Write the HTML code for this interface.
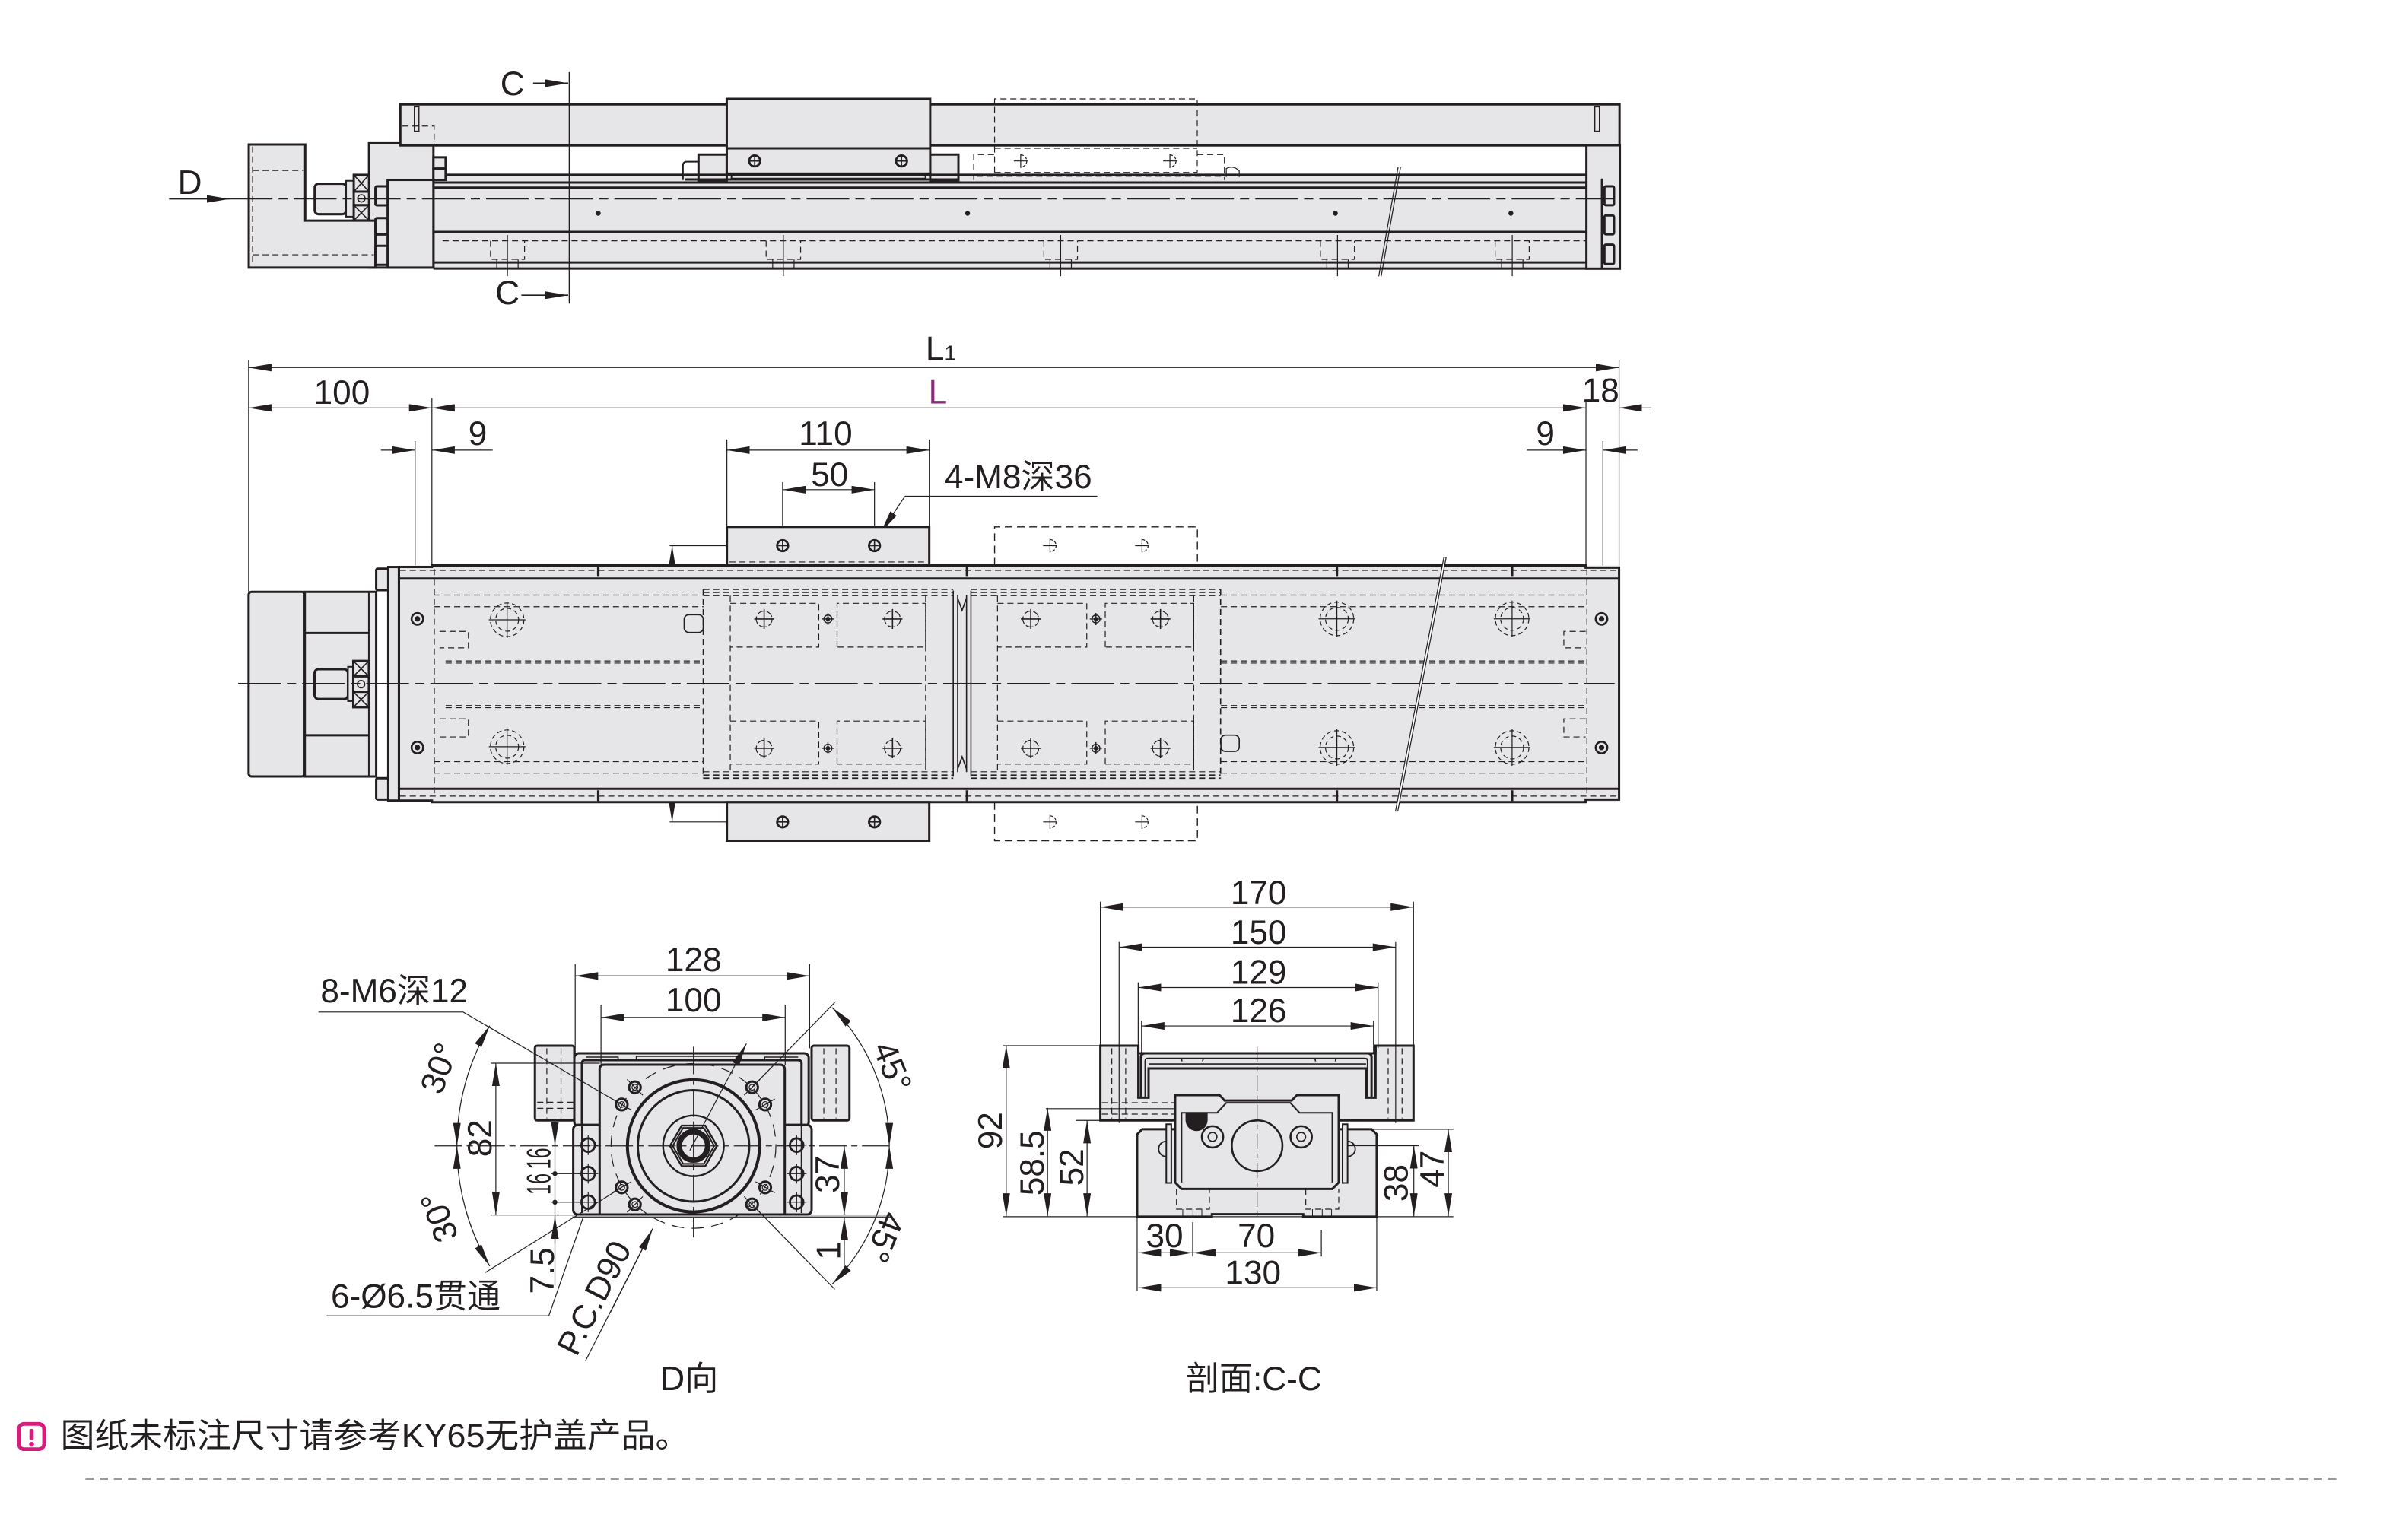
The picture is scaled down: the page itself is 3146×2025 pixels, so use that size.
<!DOCTYPE html>
<html><head><meta charset="utf-8">
<style>
html,body{margin:0;padding:0;background:#fff}
svg{display:block}
text{font-family:"Liberation Sans","Noto Sans CJK SC",sans-serif;font-size:22px;fill:#231f20}
</style></head><body>
<svg xmlns="http://www.w3.org/2000/svg" xmlns:xlink="http://www.w3.org/1999/xlink" width="3146" height="2025" viewBox="0 0 1568 1009.3" preserveAspectRatio="none">
<defs>
<marker id="a" viewBox="0 0 15 5" refX="15" refY="2.5" markerWidth="15" markerHeight="5" orient="auto-start-reverse" markerUnits="userSpaceOnUse"><path d="M0,0L15,2.5L0,5z" fill="#231f20"/></marker>
<g id="cb" fill="none" stroke="#231f20" stroke-width="0.6"><circle r="11" stroke-dasharray="3 2"/><circle r="7.5" stroke-dasharray="3 2"/><path d="M-12,0H12M0,-12V12"/></g>
<g id="ch" fill="none" stroke="#231f20" stroke-width="0.6"><circle r="5.2" stroke-dasharray="5 1.5"/><path d="M-6.5,0H6.5M0,-6.5V6.5" stroke-width="0.8"/></g>
<g id="sh" fill="none" stroke="#231f20" stroke-width="0.7"><circle r="2.6"/><circle r="1.1" fill="#231f20"/><path d="M-4,0H4M0,-4V4"/></g>
<g id="bh" fill="none" stroke="#231f20"><circle r="3.8" stroke-width="1.3"/><circle r="1.8" fill="#231f20" stroke="none"/></g>
<g id="hv" fill="none" stroke="#231f20"><circle r="3.6" stroke-width="1.4"/><path d="M0,-3.6V3.6M-3.6,0H3.6" stroke-width="0.8"/></g>
<g id="gh" fill="none" stroke="#231f20" stroke-width="0.6"><path d="M0,-4A4,4 0 0 1 0,4" stroke-dasharray="2 1"/><path d="M-4.5,0H4.5M0,-4.5V4.5"/></g>
<g id="dh" fill="none" stroke="#231f20"><circle r="3.8" stroke-width="1.5"/><circle r="1.9" stroke-width="0.6"/></g>
<g id="sd" fill="none" stroke="#231f20"><circle r="4.4" stroke-width="1.4"/><path d="M-6.5,0H6.5M0,-6.5V6.5" stroke-width="0.6"/></g>
</defs>

<!-- ================= TOP (SIDE) VIEW ================= -->
<g fill="#e6e6e8" stroke="#231f20" stroke-width="1.5">
 <rect x="284" y="114.6" width="755.5" height="61.5" stroke="none"/>
 <rect x="241.8" y="93.9" width="42.2" height="81.5"/>
 <polygon points="163,94.7 200,94.7 200,144.6 246,144.6 246,175.4 163,175.4"/>
 <rect x="254" y="117.9" width="30" height="57.5"/>
 <rect x="246" y="122.1" width="8" height="12.5" rx="1"/>
 <rect x="246" y="142.9" width="8" height="10.8" rx="1"/>
 <rect x="246" y="161.1" width="8" height="12.5" rx="1"/>
 <rect x="284" y="103.1" width="8" height="7.4"/>
 <rect x="284" y="110.5" width="8" height="7.4"/>
 <rect x="206.2" y="120.4" width="20.6" height="20" rx="2.5"/>
 <rect x="226.8" y="118.5" width="5" height="23.5" stroke-width="1"/>
 <rect x="231.8" y="114.6" width="10" height="11"/>
 <rect x="231.8" y="125.6" width="10" height="8.9"/>
 <rect x="231.8" y="134.5" width="10" height="10"/>
 <rect x="262.3" y="68.4" width="798.9" height="26.9"/>
 <rect x="1039.5" y="95.2" width="21.9" height="80.9"/>
 <rect x="1051.3" y="122.1" width="6.3" height="12.4" rx="1"/>
 <rect x="1051.3" y="141.2" width="6.3" height="12.4" rx="1"/>
 <rect x="1051.3" y="160.3" width="6.3" height="12.8" rx="1"/>
 <rect x="457.7" y="101.3" width="18.5" height="17.4"/>
 <rect x="609.5" y="101.3" width="18.5" height="17.4"/>
 <rect x="476.2" y="64.8" width="133.3" height="49"/>
</g>
<g fill="none" stroke="#231f20" stroke-width="1.5">
 <path d="M292,114.6H1039.5M284,119.6H1039.5M284,123H1039.5M284,152H1039.5M284,172H1039.5M284,176H1039.5"/>
 <path d="M476.2,97.2H609.5M449,117.6H628"/>
 <path d="M1049.7,117V176"/>
 <path d="M231.8,114.6L241.8,125.6M241.8,114.6L231.8,125.6M231.8,134.5L241.8,144.5M241.8,134.5L231.8,144.5" stroke-width="0.8"/>
 <circle cx="236.8" cy="130" r="2.4" stroke-width="0.8"/>
 <rect x="479.3" y="113.8" width="127.1" height="3.2" stroke-width="1"/>
 <path d="M447.5,118V108.5Q447.5,106 450,106H457.7" stroke-width="1"/>
 <rect x="271.5" y="70" width="3" height="16" stroke-width="0.7"/>
 <rect x="1045" y="70" width="3" height="16" stroke-width="0.7"/>
</g>
<use href="#hv" x="494.5" y="105.5"/><use href="#hv" x="590.7" y="105.5"/>
<g fill="none" stroke="#231f20" stroke-width="0.6" stroke-dasharray="4 2.5">
 <path d="M165.5,96V174M165.5,111.7H199M165.5,167H245"/>
 <path d="M263.5,82.6H284.5V95"/>
 <path d="M290,157.8H1039"/>
 <path d="M321.4,157.8V170H343.7V157.8M502,157.8V170H524.6V157.8M684,157.8V170H706V157.8M865.2,157.8V170H887.5V157.8M979.7,157.8V170H1002V157.8"/>
 <path d="M651.7,113V64.8H784.5V113M651.7,97.2H784.5M651.7,113H784.5"/>
 <path d="M638,118V101.3H651.7M784.5,101.3H802.3V118M640,115.5H800"/>
</g>
<g fill="none" stroke="#231f20" stroke-width="0.6">
 <path d="M332.5,154V181M325.5,170V176M339.5,170V176M513.3,154V181M506.3,170V176M520.3,170V176M695,154V181M688,170V176M702,170V176M876.4,154V181M869.4,170V176M883.4,170V176M990.9,154V181M983.9,170V176M997.9,170V176"/>
 <path d="M150.5,130.4H1058" stroke-dasharray="28 4 6 4"/>
 <path d="M916.1,109.6L903.4,181.1M917.7,109.6L905,181.1"/>
 <path d="M803.5,116V110.5Q808,108 812,112V116"/>
 <line x1="373" y1="47.3" x2="373" y2="199" stroke-width="0.7"/>
 <line x1="349.3" y1="54.5" x2="372.3" y2="54.5" stroke-width="0.8" marker-end="url(#a)"/>
 <line x1="341.6" y1="193.5" x2="372.3" y2="193.5" stroke-width="0.8" marker-end="url(#a)"/>
 <line x1="110.8" y1="130.4" x2="150.5" y2="130.4" stroke-width="0.8" marker-end="url(#a)"/>
</g>
<use href="#gh" x="668.8" y="105.5"/><use href="#gh" x="766.6" y="105.5"/>
<g fill="#231f20"><circle cx="392" cy="139.8" r="1.6"/><circle cx="634" cy="139.8" r="1.6"/><circle cx="875" cy="139.8" r="1.6"/><circle cx="990" cy="139.8" r="1.6"/></g>
<text x="335.8" y="62.3" text-anchor="middle">C</text>
<text x="332.5" y="199.4" text-anchor="middle">C</text>
<text x="124.4" y="127" text-anchor="middle">D</text>

<!-- ================= PLAN VIEW ================= -->
<g fill="none" stroke="#231f20" stroke-width="0.6">
 <line x1="162.9" y1="240.9" x2="1060.6" y2="240.9" marker-start="url(#a)" marker-end="url(#a)"/>
 <line x1="162.9" y1="267.3" x2="283" y2="267.3" marker-start="url(#a)" marker-end="url(#a)"/>
 <line x1="283" y1="267.3" x2="1039.2" y2="267.3" marker-start="url(#a)" marker-end="url(#a)"/>
 <line x1="1082" y1="267.3" x2="1060.9" y2="267.3" marker-end="url(#a)"/>
 <line x1="249.6" y1="295" x2="272" y2="295" marker-end="url(#a)"/>
 <line x1="322.8" y1="295" x2="283" y2="295" marker-end="url(#a)"/>
 <line x1="1000.5" y1="295" x2="1039.2" y2="295" marker-end="url(#a)"/>
 <line x1="1073" y1="295" x2="1050.3" y2="295" marker-end="url(#a)"/>
 <line x1="476.3" y1="295" x2="608.9" y2="295" marker-start="url(#a)" marker-end="url(#a)"/>
 <line x1="512.8" y1="320.9" x2="573" y2="320.9" marker-start="url(#a)" marker-end="url(#a)"/>
 <path d="M162.9,236V387.9M1060.9,236V372M283,261V370.6M1039.2,262V370.6M272,289V405M1050.3,289V405M476.3,288V345.3M608.9,288V345.3M512.8,316V357.6M573,316V357.6"/>
 <path d="M719,325.2H593"/>
 <line x1="593" y1="325.2" x2="577.1" y2="349" marker-end="url(#a)"/>
 <path d="M438.8,357.6H505.6M438.8,538.7H505.6"/>
 <line x1="440.4" y1="357.6" x2="440.4" y2="538.7" marker-start="url(#a)" marker-end="url(#a)"/>
</g>
<text x="224" y="264.7" text-anchor="middle">100</text>
<text x="606.5" y="236">L<tspan font-size="14">1</tspan></text>
<text x="614.5" y="264.5" text-anchor="middle" style="fill:#8a2a7a">L</text>
<text x="1048.8" y="263.5" text-anchor="middle">18</text>
<text x="313" y="291.6" text-anchor="middle">9</text>
<text x="1012.6" y="291.6" text-anchor="middle">9</text>
<text x="541" y="291.7" text-anchor="middle">110</text>
<text x="543.6" y="318.5" text-anchor="middle">50</text>
<text x="619" y="320">4-M8深36</text>
<text transform="translate(424.5,414) rotate(-90)" y="7.8" text-anchor="middle">150</text>

<g fill="#e6e6e8" stroke="#231f20" stroke-width="1.5">
 <rect x="261.4" y="370.6" width="799.5" height="155.1" stroke="none"/>
 <rect x="254.4" y="371.6" width="7" height="153.1"/>
 <rect x="246.5" y="372.7" width="7.9" height="14.1" rx="1"/>
 <rect x="246.5" y="510" width="7.9" height="14" rx="1"/>
 <rect x="162.9" y="387.9" width="36.8" height="121" rx="2"/>
 <rect x="199.7" y="387.9" width="46.8" height="121"/>
 <rect x="206.1" y="438.6" width="21.9" height="19.5" rx="2.5"/>
 <rect x="228" y="437" width="3.5" height="22.5" stroke-width="1"/>
 <rect x="231.5" y="433.2" width="10.2" height="10.1"/>
 <rect x="231.5" y="443.3" width="10.2" height="10.1"/>
 <rect x="231.5" y="453.4" width="10.2" height="10.1"/>
 <rect x="476.3" y="345.3" width="132.6" height="25.3"/>
 <rect x="476.3" y="525.7" width="132.6" height="25.3"/>
</g>
<g fill="none" stroke="#231f20" stroke-width="1.5">
 <path d="M261.4,371.6H283V370.6H1039V372H1060.9V524H1039V525.7H283V524.7H261.4Z"/>
 <path d="M261.4,379.2H1060.9M261.4,517H1060.9"/>
 <path d="M199.7,414.9H241.7M199.7,481.9H241.7"/>
 <path d="M241.7,387.9V508.9" stroke-width="1"/>
 <path d="M231.5,433.2L241.7,443.3M241.7,433.2L231.5,443.3M231.5,453.4L241.7,463.5M241.7,453.4L231.5,463.5" stroke-width="0.8"/>
 <circle cx="236.6" cy="448.4" r="2.4" stroke-width="0.8"/>
 <path d="M392,371V378M633.6,371V378M876,371V378M990.8,371V378M392,518V525M633.6,518V525M876,518V525M990.8,518V525" stroke-width="1.6"/>
</g>
<g fill="none" stroke="#231f20" stroke-width="0.6" stroke-dasharray="4 2.5">
 <path d="M262,373.8H1060M262,521.8H1060"/>
 <path d="M284.6,373V522M1039.8,373V522"/>
 <path d="M284.6,390H461M284.6,397.6H461M292,433.2H461M292,434.6H461M292,462.4H461M292,463.8H461M284.6,499.2H461M284.6,506.7H461"/>
 <path d="M800,390H1039.8M800,397.6H1039.8M800,433.2H1039.8M800,434.6H1039.8M800,462.4H1039.8M800,463.8H1039.8M800,499.2H1039.8M800,506.7H1039.8"/>
 <path d="M288,413.8H306.9V424.6H288M288,471.1H306.9V483H288M1039,413.8H1024.7V424.6H1039M1039,471.1H1024.7V483H1039"/>
 <path d="M460.8,386.2H624.6M460.8,388.2H624.6M636.2,386.2H799.8M636.2,388.2H799.8M460.8,508H624.6M460.8,510H624.6M636.2,508H799.8M636.2,510H799.8" stroke-width="0.9"/>
 <path d="M460.8,386.2V510M799.8,386.2V510" stroke-width="0.8"/>
 <path d="M478.5,390.4V505.8M606.5,390.4V505.8M653.6,390.4V505.8M782.2,390.4V505.8M460.8,390.4H624.6M460.8,505.8H624.6M636.2,390.4H799.8M636.2,505.8H799.8"/>
 <path d="M478.5,395.4H536.5V424.1H478.5M548.5,424.1V395.4H606.5V424.1H548.5M478.5,472.6H536.5V500.8H478.5M548.5,500.8V472.6H606.5V500.8H548.5"/>
 <path d="M653.6,395.4H712.1V424.1H653.6M724.2,424.1V395.4H782.2V424.1H724.2M653.6,472.6H712.1V500.8H653.6M724.2,500.8V472.6H782.2V500.8H724.2"/>
 <path d="M651.7,370.6V345.3H784.6V370.6M651.7,525.7V551H784.6V525.7" stroke-width="0.7" stroke-dasharray="5 3"/>
 <path d="M478,368.3H607" stroke-width="0.6"/>
</g>
<g fill="none" stroke="#231f20" stroke-width="0.8">
 <path d="M624.6,387V509M636.2,387V509M627.5,390V506M633.3,390V506"/>
 <path d="M627.5,392L630.4,400L633.3,392M627.5,504L630.4,496L633.3,504"/>
 <rect x="448.3" y="402.9" width="12.5" height="11.6" rx="3"/>
 <rect x="800" y="481.8" width="12" height="10.7" rx="3"/>
 <path d="M156,447.9H1058" stroke-width="0.6" stroke-dasharray="28 4 6 4"/>
</g>
<polygon points="946.1,365.2 947.6,365.2 915.9,531.6 914.4,531.6" fill="#fff" stroke="#231f20" stroke-width="0.6"/>
<use href="#bh" x="273.5" y="405.6"/><use href="#bh" x="273.5" y="489.9"/>
<use href="#bh" x="1049.4" y="405.6"/><use href="#bh" x="1049.4" y="489.9"/>
<use href="#cb" x="332.3" y="406.2"/><use href="#cb" x="332.3" y="489.4"/>
<use href="#cb" x="876" y="405.6"/><use href="#cb" x="876" y="489.9"/>
<use href="#cb" x="990.8" y="405.6"/><use href="#cb" x="990.8" y="489.9"/>
<use href="#ch" x="500.7" y="405.7"/><use href="#ch" x="584.8" y="405.7"/>
<use href="#ch" x="500.7" y="490.4"/><use href="#ch" x="584.8" y="490.4"/>
<use href="#ch" x="675.4" y="405.7"/><use href="#ch" x="760.4" y="405.7"/>
<use href="#ch" x="675.4" y="490.4"/><use href="#ch" x="760.4" y="490.4"/>
<use href="#sh" x="542.5" y="405.7"/><use href="#sh" x="542.5" y="490.4"/>
<use href="#sh" x="718.1" y="405.7"/><use href="#sh" x="718.1" y="490.4"/>
<use href="#hv" x="512.8" y="357.6"/><use href="#hv" x="573" y="357.6"/>
<use href="#hv" x="512.8" y="538.7"/><use href="#hv" x="573" y="538.7"/>
<use href="#gh" x="688" y="357.6"/><use href="#gh" x="748.3" y="357.6"/>
<use href="#gh" x="688" y="538.7"/><use href="#gh" x="748.3" y="538.7"/>

<!-- ================= D VIEW ================= -->
<g fill="#e6e6e8" stroke="#231f20" stroke-width="1.5">
 <rect x="350.5" y="685.3" width="25.8" height="49" rx="1.5"/>
 <rect x="531.8" y="685.3" width="24.8" height="49" rx="1.5"/>
 <rect x="376.3" y="690.3" width="153.6" height="48" rx="3"/>
 <rect x="375.6" y="737.2" width="156.2" height="58.8" rx="3"/>
 <path d="M392.9,796V701Q392.9,697.8 396,697.8H511.1Q514.2,697.8 514.2,701V796Z"/>
</g>
<g fill="none" stroke="#231f20" stroke-width="1.5">
 <path d="M381.3,738.2V697Q381.3,694.8 383.5,694.8H523Q525.2,694.8 525.2,697V738.2"/>
 <path d="M381.3,738V795M525.2,738V795" stroke-width="1"/>
 <path d="M384,692.8H405V694.8M417,694.8V692.3H482.4V694.8M501,694.8V692.8H523" stroke-width="0.8"/>
 <circle cx="454.4" cy="751" r="43.3" stroke-width="2"/>
 <circle cx="454.4" cy="751" r="36.5" stroke-width="1.5"/>
 <circle cx="454.4" cy="751" r="19.9" stroke-width="1.2"/>
 <polygon points="469.8,751 462.1,764.3 446.7,764.3 439,751 446.7,737.7 462.1,737.7" stroke-width="1.2"/>
 <polygon points="468,751 461.2,762.8 447.6,762.8 440.8,751 447.6,739.2 461.2,739.2" stroke-width="1"/>
 <circle cx="454.4" cy="751" r="9.3" stroke-width="3.6"/>
 <circle cx="454.4" cy="751" r="54" stroke-width="0.6" stroke-dasharray="8 5"/>
 <path d="M358.3,687V733M367.6,687V733M539.8,687V733M547.8,687V733M352,722.4H378M352,726.4H378" stroke-width="0.6" stroke-dasharray="4 2.5"/>
 <path d="M454.4,686V811M284.8,751H583.9" stroke-width="0.6" stroke-dasharray="18 3 4 3"/>
 <path d="M375,797.6H583.9" stroke-width="0.6"/>
 <path d="M495.1,727.5L507.7,720.25M487.6,717.8L497.9,707.5M421.2,717.8L410.9,707.5M413.7,727.5L401.1,720.25M413.7,774.5L401.1,781.75M421.2,784.2L410.9,794.5M487.6,784.2L497.9,794.5M495.1,774.5L507.7,781.75" stroke-width="0.6"/>
</g>
<use href="#dh" x="501.4" y="723.9"/><use href="#dh" x="492.8" y="712.6"/>
<use href="#dh" x="416" y="712.6"/><use href="#dh" x="407.4" y="723.9"/>
<use href="#dh" x="407.4" y="778.2"/><use href="#dh" x="416" y="789.4"/>
<use href="#dh" x="492.8" y="789.4"/><use href="#dh" x="501.4" y="778.2"/>
<use href="#sd" x="385.4" y="750.5"/><use href="#sd" x="385.4" y="769.2"/><use href="#sd" x="385.4" y="787.9"/>
<use href="#sd" x="522" y="750.5"/><use href="#sd" x="522" y="769.2"/><use href="#sd" x="522" y="787.9"/>
<g fill="none" stroke="#231f20" stroke-width="0.6">
 <line x1="376.9" y1="639.6" x2="530.5" y2="639.6" marker-start="url(#a)" marker-end="url(#a)"/>
 <line x1="393.8" y1="666.8" x2="514.5" y2="666.8" marker-start="url(#a)" marker-end="url(#a)"/>
 <path d="M376.9,631.8V690M530.5,631.8V687M393.8,658.4V697.8M514.5,658.4V697.8"/>
 <line x1="324.9" y1="696.8" x2="324.9" y2="796.3" marker-start="url(#a)" marker-end="url(#a)"/>
 <path d="M322,696.8H393M322,796.3H584"/>
 <path d="M363.6,734.2V842.6M361,769.2H385M361,787.9H385"/>
 <line x1="363.6" y1="733" x2="363.6" y2="750.5" marker-end="url(#a)"/>
 <line x1="363.6" y1="815" x2="363.6" y2="797" marker-end="url(#a)"/>
 <line x1="553.2" y1="751" x2="553.2" y2="796.3" marker-start="url(#a)" marker-end="url(#a)"/>
 <line x1="553.2" y1="834.8" x2="553.2" y2="797.8" marker-end="url(#a)"/>
 <path d="M299.4,751A155,155 0 0 1 320.9,672.2" marker-start="url(#a)" marker-end="url(#a)"/>
 <path d="M299.4,751A155,155 0 0 0 320.9,829.8" marker-start="url(#a)" marker-end="url(#a)"/>
 <path d="M582.7,751A128.3,128.3 0 0 0 545.2,660.3" marker-start="url(#a)" marker-end="url(#a)"/>
 <path d="M582.7,751A128.3,128.3 0 0 1 545.2,841.7" marker-start="url(#a)" marker-end="url(#a)"/>
 <path d="M208.7,663.3H303.5L407.4,723.9"/>
 <path d="M318,834L407.4,778.2"/>
 <path d="M214,862.4H359.6L382.3,797.3"/>
 <path d="M547,657L492.8,712.6M547,845L492.8,789.4"/>
 <path d="M383.6,892L427.7,805.2"/>
 <line x1="452" y1="754" x2="489.1" y2="684" marker-end="url(#a)"/>
 <line x1="400" y1="860" x2="427.7" y2="805.2" marker-end="url(#a)"/>
 <circle cx="363.6" cy="769.2" r="1.3" fill="#231f20"/>
 <circle cx="363.6" cy="787.9" r="1.3" fill="#231f20"/>
</g>
<text x="454.4" y="636.5" text-anchor="middle">128</text>
<text x="454.4" y="663" text-anchor="middle">100</text>
<text x="210" y="657">8-M6深12</text>
<text x="216.8" y="857">6-Ø6.5贯通</text>
<text x="451.7" y="911" text-anchor="middle">D向</text>
<text transform="translate(314.2,746) rotate(-90)" y="7.8" text-anchor="middle">82</text>
<text transform="translate(353.9,759.3) rotate(-90)" x="-7" y="6.6" font-size="18.5" textLength="14" lengthAdjust="spacingAndGlyphs">16</text>
<text transform="translate(353.9,776) rotate(-90)" x="-7" y="6.6" font-size="18.5" textLength="14" lengthAdjust="spacingAndGlyphs">16</text>
<text transform="translate(355,832.8) rotate(-90)" y="7.8" text-anchor="middle">7.5</text>
<text transform="translate(541.9,769.7) rotate(-90)" y="7.8" text-anchor="middle">37</text>
<text transform="translate(542.7,819.6) rotate(-90)" y="7.8" text-anchor="middle">1</text>
<text transform="translate(287.5,700) rotate(-70)" y="7.8" text-anchor="middle">30°</text>
<text transform="translate(287.5,797.8) rotate(-110)" y="7.8" text-anchor="middle">30°</text>
<text transform="translate(585,699) rotate(68)" y="7.8" text-anchor="middle">45°</text>
<text transform="translate(580,811) rotate(112)" y="7.8" text-anchor="middle">45°</text>
<text transform="translate(389,850.5) rotate(-63)" y="7.8" text-anchor="middle">P.C.D90</text>

<!-- ================= SECTION C-C ================= -->
<g fill="#e6e6e8" stroke="#231f20" stroke-width="1.5">
 <polygon points="721,685.3 745.9,685.3 745.9,690.3 901.3,690.3 901.3,685.3 926.2,685.3 926.2,734.3 721,734.3"/>
 <polygon points="745.1,743.4 748.4,740.1 898.8,740.1 902.1,743.4 902.1,797.4 853.9,797.4 853.9,795.8 794.1,795.8 794.1,797.4 745.1,797.4"/>
 <rect x="764.2" y="736.8" width="3.3" height="38.5" stroke-width="1"/>
 <rect x="879.7" y="736.8" width="3.3" height="38.5" stroke-width="1"/>
 <polygon points="770,717.7 799.1,717.7 802.4,721.3 846.4,721.3 849.8,717.7 877.2,717.7 877.2,775 873,779.2 774.2,779.2 770,775"/>
</g>
<g fill="none" stroke="#231f20" stroke-width="1.5">
 <path d="M745.9,685.3V719.4H752.6V700.3H895.1V719.4H901.3V685.3"/>
 <path d="M747.6,719V693Q747.6,690.3 750.5,690.3H896Q898.7,690.3 898.7,693V719"/>
 <path d="M750.3,719V695.5Q750.3,693.6 752.3,693.6H894Q896,693.6 896,695.5V719M752.6,697.3H895.1" stroke-width="0.8"/>
 <path d="M752.6,693.8H773Q774.5,693.8 774.5,695.6M788,695.6Q788,693.8 789.5,693.8H860.5Q862,693.8 862,695.6M875,695.6Q875,693.8 876.5,693.8H896" stroke-width="0.8"/>
 <path d="M774.2,775V729.3H797.5L803.5,722.8H845.5L851.5,729.3H873V775" stroke-width="1"/>
 <path d="M764.2,748A5,5 0 0 0 764.2,758M883,748A5,5 0 0 1 883,758" stroke-width="0.9"/>
 <circle cx="823.7" cy="750.9" r="16.6" stroke-width="1.3"/>
 <circle cx="794.5" cy="745.1" r="7" stroke-width="1.3"/>
 <circle cx="794.5" cy="745.1" r="2.9" stroke-width="0.8"/>
 <circle cx="852.6" cy="745.1" r="7" stroke-width="1.3"/>
 <circle cx="852.6" cy="745.1" r="2.9" stroke-width="0.8"/>
 <path d="M728.5,687V733M737.6,687V733M909.6,687V733M918.7,687V733M722,722.7H770M722,730.2H770M770.9,779.2V792.5H792.5V779.2M855.6,779.2V792.5H877.2V779.2" stroke-width="0.6" stroke-dasharray="4 2.5"/>
 <path d="M775,792.5V797M781.7,792.5V797M787.5,792.5V797M860,792.5V797M866.4,792.5V797M872.5,792.5V797" stroke-width="0.5"/>
 <path d="M823.7,686V799" stroke-width="0.6" stroke-dasharray="10 3 3 3"/>
</g>
<path d="M776.8,729.3H791.3V734A7.25,7.25 0 0 1 776.8,734Z" fill="#231f20"/>
<g fill="none" stroke="#231f20" stroke-width="0.6">
 <line x1="721" y1="594.5" x2="926.2" y2="594.5" marker-start="url(#a)" marker-end="url(#a)"/>
 <line x1="733.3" y1="620.8" x2="914.5" y2="620.8" marker-start="url(#a)" marker-end="url(#a)"/>
 <line x1="745.8" y1="647.2" x2="903" y2="647.2" marker-start="url(#a)" marker-end="url(#a)"/>
 <line x1="748" y1="672.4" x2="900" y2="672.4" marker-start="url(#a)" marker-end="url(#a)"/>
 <path d="M721,591V686M926.2,591V686M733.3,617.4V736M914.5,617.4V736M745.8,643.8V687M903,643.8V687M748,669V690M900,669V690"/>
 <line x1="659.3" y1="685.3" x2="659.3" y2="797.1" marker-start="url(#a)" marker-end="url(#a)"/>
 <line x1="686.4" y1="726.1" x2="686.4" y2="797.1" marker-start="url(#a)" marker-end="url(#a)"/>
 <line x1="712.3" y1="734.3" x2="712.3" y2="797.1" marker-start="url(#a)" marker-end="url(#a)"/>
 <path d="M657.2,685.3H721M685.3,726.6H770M704.8,734.3H745M657.2,797.4H952.3"/>
 <line x1="926.4" y1="750.9" x2="926.4" y2="797.1" marker-start="url(#a)" marker-end="url(#a)"/>
 <line x1="949" y1="740.1" x2="949" y2="797.1" marker-start="url(#a)" marker-end="url(#a)"/>
 <path d="M900.4,740.1H952.3M883,750.9H929.6"/>
 <line x1="745.8" y1="821.1" x2="781.5" y2="821.1" marker-start="url(#a)" marker-end="url(#a)"/>
 <line x1="781.5" y1="821.1" x2="865.8" y2="821.1" marker-start="url(#a)" marker-end="url(#a)"/>
 <line x1="745.8" y1="844" x2="902.1" y2="844" marker-start="url(#a)" marker-end="url(#a)"/>
 <path d="M745.1,797V846M902.1,797V846M781.5,801V823.5M865.8,806V823.5"/>
</g>
<text x="824.7" y="592.5" text-anchor="middle">170</text>
<text x="824.7" y="618.5" text-anchor="middle">150</text>
<text x="824.7" y="644.8" text-anchor="middle">129</text>
<text x="824.7" y="670" text-anchor="middle">126</text>
<text transform="translate(648.5,741) rotate(-90)" y="7.8" text-anchor="middle">92</text>
<text transform="translate(676.1,762.2) rotate(-90)" y="7.8" text-anchor="middle">58.5</text>
<text transform="translate(702,765) rotate(-90)" y="7.8" text-anchor="middle">52</text>
<text transform="translate(914.5,775.3) rotate(-90)" y="7.8" text-anchor="middle">38</text>
<text transform="translate(938.2,766.2) rotate(-90)" y="7.8" text-anchor="middle">47</text>
<text x="763.1" y="817.5" text-anchor="middle">30</text>
<text x="823.2" y="817.5" text-anchor="middle">70</text>
<text x="821" y="841.5" text-anchor="middle">130</text>
<text x="821.5" y="911" text-anchor="middle">剖面:C-C</text>

<!-- ================= NOTE ================= -->
<rect x="12.3" y="933.2" width="16.6" height="16.6" rx="3.5" fill="#fff" stroke="#d81b7c" stroke-width="2.4"/>
<rect x="19.3" y="936.5" width="2.8" height="7.5" rx="1.2" fill="#d81b7c"/>
<circle cx="20.7" cy="946.6" r="1.6" fill="#d81b7c"/>
<text x="39.7" y="948.5" textLength="412" lengthAdjust="spacingAndGlyphs">图纸未标注尺寸请参考KY65无护盖产品。</text>
<line x1="56" y1="969.2" x2="1532" y2="969.2" stroke="#9a9a9a" stroke-width="1.5" stroke-dasharray="5.5 3.8"/>
</svg>
</body></html>
